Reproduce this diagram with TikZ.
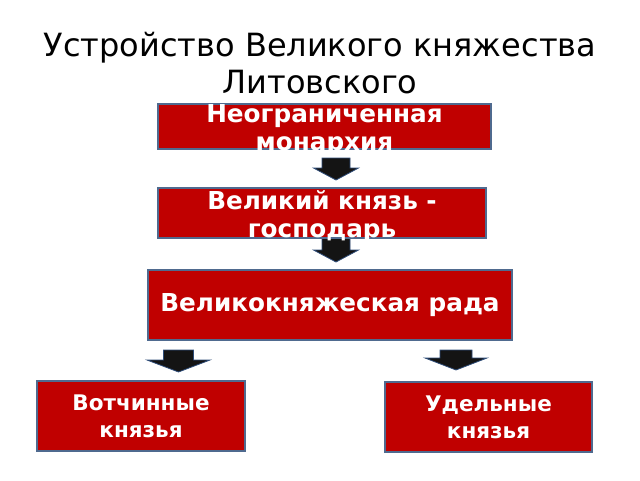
\documentclass[tikz,border=0pt]{standalone}
\usepackage{fontspec}
\setmainfont{DejaVu Sans}
\usepackage{xcolor}
\usepackage{tikz}
\usetikzlibrary{calc,backgrounds}
\definecolor{boxred}{HTML}{C00000}
\definecolor{edge}{HTML}{4F6A8F}
\definecolor{arr}{HTML}{141414}
\definecolor{arredge}{HTML}{2E4C78}
\tikzset{
  box/.style={rectangle, fill=boxred, draw=edge, line width=1.2pt, text=white, font=\bfseries\fontsize{24.7}{28}\selectfont, align=center, inner sep=0pt},
  boxtxt/.style={text=white, font=\bfseries\fontsize{24.7}{28}\selectfont, align=center, inner sep=0pt, yshift=-3.5pt},
  sbox/.style={box, font=\bfseries\fontsize{21.5}{27}\selectfont},
  blk/.style={fill=arr, draw=arredge, line width=0.8pt, line join=miter},
  ttl/.style={font=\fontsize{32}{37}\selectfont, align=center, text=black},
}
% block arrow: centre x, top y, neck y, tip y, half shaft, half head
\newcommand{\blockdown}[6]{%
  \filldraw[blk] ($(#1,#2)+(-#5,0)$) -- ($(#1,#2)+(#5,0)$) -- ($(#1,#3)+(#5,0)$)
    -- ($(#1,#3)+(#6,0)$) -- (#1,#4) -- ($(#1,#3)+(-#6,0)$) -- ($(#1,#3)+(-#5,0)$) -- cycle;}
\begin{document}
\begin{tikzpicture}[x=1pt,y=-1pt]
  \useasboundingbox (0,0) rectangle (640,480);
  \node[ttl] (title) at (320,63) {Устройство Великого княжества\\Литовского};
  \node[box, minimum width=333pt, minimum height=45pt,
    label={[boxtxt]center:Неограниченная\\монархия}] (mon) at (324.5,126.5) {};
  \node[box, minimum width=328pt, minimum height=50pt,
    label={[boxtxt]center:Великий князь -\\господарь}] (prince) at (322,213) {};
  \node[box, minimum width=364pt, minimum height=70pt] (rada) at (330,305) {Великокняжеская рада};
  \node[sbox, minimum width=208pt, minimum height=70pt] (votch) at (141,416) {Вотчинные\\князья};
  \node[sbox, minimum width=207pt, minimum height=70pt] (udel) at (488.5,417) {Удельные\\князья};
  \begin{scope}[on background layer]
    \blockdown{336}{158}{168}{180}{14}{22.5}
    \blockdown{336}{236}{250}{262}{14}{22.5}
    \blockdown{178.5}{350}{360}{372}{15}{31.5}
    \blockdown{456}{350}{358}{370}{16}{31}
  \end{scope}
\end{tikzpicture}
\end{document}
